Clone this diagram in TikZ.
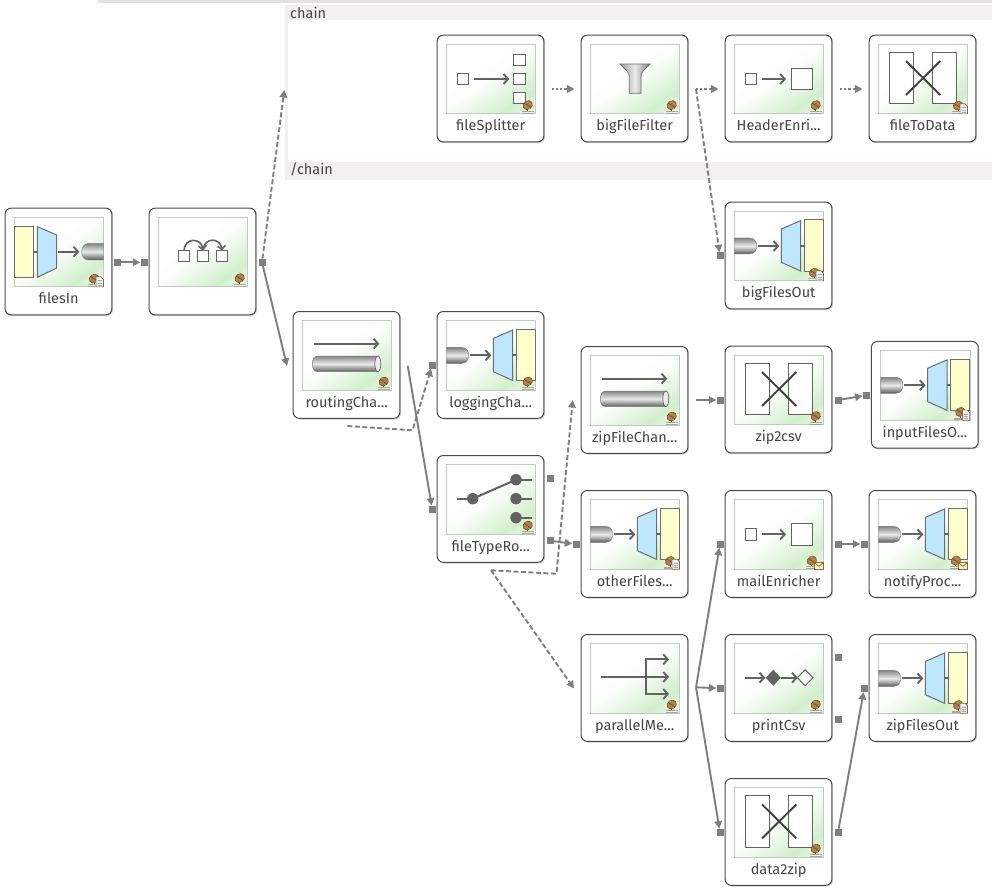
\documentclass[tikz,border=0pt]{standalone}
\usepackage{fontspec}
\setmainfont{Fira Sans}
\usetikzlibrary{arrows.meta}
\definecolor{cg}{HTML}{D2EFCD}
\definecolor{cgl}{HTML}{E4F6E0}
\definecolor{band}{HTML}{F1F0EE}
\definecolor{topband}{HTML}{E2E2E0}
\definecolor{boxline}{HTML}{4A4A4A}
\definecolor{boxshadow}{HTML}{CCCCCC}
\definecolor{imgline}{HTML}{C4C9C4}
\definecolor{icon}{HTML}{626262}
\definecolor{iconedge}{HTML}{6A7072}
\definecolor{ydoc}{HTML}{FFFFCC}
\definecolor{bluet}{HTML}{BFE6FF}
\definecolor{conn}{HTML}{7E7E7E}
\definecolor{labelc}{HTML}{444444}
\definecolor{cylT}{HTML}{858585}
\definecolor{cylM}{HTML}{EAEAEA}
\definecolor{cylB}{HTML}{5A5A5A}
\definecolor{beanc}{HTML}{B07A45}
\definecolor{beand}{HTML}{7A4A20}
\definecolor{standa}{HTML}{B4A878}
\definecolor{standb}{HTML}{9AA6C0}
\definecolor{docb}{HTML}{8A6A2A}
\definecolor{docf}{HTML}{EEF3FA}
\definecolor{mailf}{HTML}{FFF6C8}
\pgfdeclareverticalshading{compgrad}{100bp}{color(0bp)=(cgl); color(20bp)=(cgl); color(28bp)=(cg); color(50bp)=(white!90!cg); color(62bp)=(white); color(100bp)=(white)}
\tikzset{
  compbox/.style={draw=boxline,fill=white,line width=1pt,rounded corners=6pt,minimum width=106.7pt,minimum height=106.7pt,inner sep=0pt},
  shadowbox/.style={draw=boxshadow,line width=1.2pt,rounded corners=6pt},
  img/.style={draw=imgline,line width=1pt,shading=compgrad,shading angle=35},
  clabel/.style={font=\fontsize{14.5}{16}\selectfont,text=labelc,inner sep=0pt,anchor=base},
  ilinew/.style={draw=icon,line width=2pt},
  iarrow/.style={draw=icon,line width=2pt,-{Straight Barb[length=4.5pt,width=10pt,line width=1.9pt]}},
  iedge/.style={draw=iconedge,line width=1pt},
  isq/.style={draw=icon,fill=white,line width=1pt},
  cyl/.style={top color=cylT,bottom color=cylB,middle color=cylM,draw=iconedge,line width=0.4pt},
  port/.style={rectangle,fill=conn,draw=none,minimum size=7pt,inner sep=0pt},
  link/.style={draw=conn,line width=1.9pt,-{Triangle[length=7.5pt,width=7.5pt]}},
  linkd/.style={link,dash pattern=on 5pt off 2.5pt},
  linkdot/.style={link,dash pattern=on 2.2pt off 2pt},
  bandtext/.style={font=\fontsize{14.5}{16}\selectfont,text=labelc,inner sep=0pt,anchor=base west},
}
% icons, in coordinates relative to the component box
\newcommand\iconIn{
  \path[iedge,fill=ydoc] (9,18) rectangle (28.4,69);
  \draw[ilinew] (28.4,43.4) -- (32,43.4);
  \path[iedge,fill=bluet] (32,18.3) -- (51.4,26.7) -- (51.4,59.7) -- (32,69) -- cycle;
  \path[cyl] (98.2,35) -- (84,35) .. controls (78,35) and (76.4,40) .. (76.4,43.4) .. controls (76.4,47) and (78,51.7) .. (84,51.7) -- (98.2,51.7) -- cycle;
  \draw[iarrow] (53,43.4) -- (74,43.4);
}
\newcommand\iconOut{
  \path[cyl] (9.2,35.7) -- (24,35.7) .. controls (30,35.7) and (31.3,40) .. (31.3,43.7) .. controls (31.3,47) and (30,51.7) .. (24,51.7) -- (9.2,51.7) -- cycle;
  \draw[iarrow] (32.7,43.7) -- (54,43.7);
  \path[iedge,fill=bluet] (56,26.7) -- (75.4,18.3) -- (75.4,68.7) -- (56,60) -- cycle;
  \draw[ilinew] (75.4,43.7) -- (79,43.7);
  \path[iedge,fill=ydoc] (79,17.7) rectangle (98.2,69);
}
\newcommand\iconSplit{
  \path[isq] (20,38.4) rectangle (31.4,49.4);
  \draw[iarrow] (36.7,43.7) -- (72,43.7);
  \path[isq] (76,19) rectangle (87.7,30.4);
  \path[isq] (76,38.4) rectangle (87.7,49.4);
  \path[isq] (76,57) rectangle (87.7,68.4);
}
\newcommand\iconFilter{
  \path[left color=cylT!80!white,right color=cylB!80!white,middle color=cylM,draw=iconedge,line width=0.8pt]
    (38.7,28.7) -- (68.7,28.7) -- (61.5,36) .. controls (60,38) and (59.7,39) .. (59.7,42) -- (59.7,58) -- (48,58) -- (48,42) .. controls (48,39) and (47.5,38) .. (46,36) -- cycle;
}
\newcommand\iconEnrich{
  \path[isq] (20,38) rectangle (31.4,49.4);
  \draw[iarrow] (36.7,43.7) -- (60.7,43.7);
  \path[isq] (66,33) rectangle (87.4,54.4);
}
\newcommand\iconTrans{
  \path[isq] (20,17) rectangle (44.4,68.4);
  \path[isq] (63,17) rectangle (87.4,68.4);
  \draw[draw=black!75,line width=1.9pt] (36.7,25.7) -- (71,59.7);
  \draw[draw=black!75,line width=1.9pt] (71,25.7) -- (36.7,59.7);
}
\newcommand\iconChannel{
  \draw[iarrow] (20.7,32) -- (86,32);
  \path[cyl] (84.5,44.3) -- (25,44.3) .. controls (20,44.3) and (19,49) .. (19,52) .. controls (19,56) and (20,60) .. (25,60) -- (84.5,60) -- cycle;
  \path[draw=icon,fill=cylM,line width=0.7pt] (84.5,52.15) ellipse [x radius=3,y radius=7.85];
}
\newcommand\iconRouter{
  \draw[ilinew] (19.4,43) -- (35.4,43);
  \draw[ilinew] (35.4,43) -- (78.7,24);
  \draw[ilinew] (78.7,24) -- (94.7,24);
  \draw[ilinew] (78.7,43) -- (94.7,43);
  \draw[ilinew] (78.7,62) -- (94.7,62);
  \path[fill=icon] (35.4,43) circle [radius=5.7];
  \path[fill=icon] (78.7,24) circle [radius=5.7];
  \path[fill=icon] (78.7,43) circle [radius=5.7];
  \path[fill=icon] (78.7,62) circle [radius=5.7];
}
\newcommand\iconChain{
  \path[isq] (29,42.4) rectangle (40.4,53.4);
  \path[isq] (48,42.4) rectangle (59.4,53.4);
  \path[isq] (67,42.4) rectangle (78.4,53.4);
  \draw[draw=icon,line width=1.6pt,-{Straight Barb[length=3.5pt,width=8pt,line width=1.5pt]}] (34.7,42.4) .. controls (35,29) and (52,29) .. (53.7,42);
  \draw[draw=icon,line width=1.6pt,-{Straight Barb[length=3.5pt,width=8pt,line width=1.5pt]}] (54,41) .. controls (55,29) and (71,29) .. (72.7,42);
}
\newcommand\iconFan{
  \draw[iarrow] (19.7,42.3) -- (87.7,42.3);
  \draw[ilinew] (64.4,24.7) -- (64.4,59.3);
  \draw[iarrow] (63.4,24.7) -- (87.7,24.7);
  \draw[iarrow] (63.4,59.3) -- (87.7,59.3);
}
\newcommand\iconAct{
  \draw[iarrow] (19.7,43) -- (40,43);
  \path[fill=icon] (40.4,43) -- (48,35) -- (55.4,43) -- (48,51) -- cycle;
  \draw[iarrow] (55.4,43) -- (72.5,43);
  \path[isq] (72,43) -- (79.8,35) -- (87.7,43) -- (79.8,51) -- cycle;
}
% badges
\newcommand\beanat[2]{
  \begin{scope}[shift={(#1,#2)}]
    \path[fill=beanc,draw=beand,line width=0.5pt,rotate around={35:(0,0)}] (0,0) ellipse [x radius=5,y radius=4.2];
    \draw[draw=beand,line width=0.6pt] (-3.5,-2) -- (3.5,2.5);
    \draw[draw=beand!60,line width=0.5pt] (-4,0) -- (2,3.5);
    \draw[draw=beand!60,line width=0.5pt] (-2,-3.5) -- (4,0);
    \draw[draw=beand,line width=0.9pt] (0,4) -- (0,6);
  \end{scope}
}
\newcommand\badgeBean{
  \beanat{90.4}{69.8}
  \draw[draw=standa,line width=1pt] (84.3,76.2) -- (96.5,76.2);
  \draw[draw=standb,line width=0.8pt] (84.3,77.8) -- (96.5,77.8);
}
\newcommand\badgeDoc{
  \beanat{88.7}{70.3}
  \draw[draw=standa,line width=1pt] (82.5,76.5) -- (92,76.5);
  \draw[draw=standb,line width=0.8pt] (82.5,78) -- (92,78);
  \path[fill=docf,draw=docb,line width=0.7pt] (90.8,68.5) -- (95.5,68.5) -- (98.2,71.2) -- (98.2,78.6) -- (90.8,78.6) -- cycle;
  \draw[draw=standb,line width=0.7pt] (92.4,72.5) -- (96.6,72.5);
  \draw[draw=standb,line width=0.7pt] (92.4,74.6) -- (96.6,74.6);
  \draw[draw=standb,line width=0.7pt] (92.4,76.7) -- (96.6,76.7);
}
\newcommand\badgeMail{
  \beanat{86.5}{69.8}
  \draw[draw=standa,line width=1pt] (80.5,76.2) -- (89,76.2);
  \draw[draw=standb,line width=0.8pt] (80.5,77.8) -- (89,77.8);
  \path[fill=mailf,draw=docb,line width=0.7pt] (88.6,71.5) rectangle (98.4,78.6);
  \draw[draw=docb,line width=0.7pt] (88.6,71.5) -- (93.5,75.6) -- (98.4,71.5);
}
% component: name, left, top, label, icon, badge
\newcommand\comp[6]{
  \begin{scope}[shift={(#2,#3)}]
    \path[shadowbox] (0.9,0.9) rectangle (107.2,107.2);
    \node[compbox] (#1) at (53.2,53.2) {};
    \path[img] (9,9) rectangle (98.4,78.4);
    #5
    #6
    \node[clabel] (#1-label) at (53.35,95.6) {#4};
  \end{scope}
}
\begin{document}
\begin{tikzpicture}[x=1pt,y=-1pt]
\useasboundingbox (0,0) rectangle (992,890);
% container bands
\path[fill=topband] (98,0) rectangle (992,3);
\path[fill=band] (285,5) rectangle (992,20);
\path[fill=band] (285,5) rectangle (288,180);
\path[fill=band] (285,162) rectangle (992,180);
\node[bandtext] (chainlabel) at (290,19) {chain};
\node[bandtext] (chainendlabel) at (290,174.5) {/chain};
% components
\comp{filesIn}{5.3}{208.3}{filesIn}{\iconIn}{\badgeDoc}
\comp{chainer}{149.3}{208.3}{}{\iconChain}{\badgeBean}
\comp{routingCha}{293.3}{311.7}{routingCha...}{\iconChannel}{\badgeBean}
\comp{loggingCha}{437.3}{311.7}{loggingCha...}{\iconOut}{\badgeBean}
\comp{fileTypeRo}{437.3}{455.7}{fileTypeRo...}{\iconRouter}{\badgeBean}
\comp{fileSplitter}{437.3}{35.3}{fileSplitter}{\iconSplit}{\badgeBean}
\comp{bigFileFilter}{581.3}{35.3}{bigFileFilter}{\iconFilter}{\badgeBean}
\comp{HeaderEnri}{725.3}{35.3}{HeaderEnri...}{\iconEnrich}{\badgeBean}
\comp{fileToData}{869.3}{35.3}{fileToData}{\iconTrans}{\badgeDoc}
\comp{bigFilesOut}{725.3}{202.3}{bigFilesOut}{\iconOut}{\badgeDoc}
\comp{zipFileChan}{581.3}{346.7}{zipFileChan...}{\iconChannel}{\badgeBean}
\comp{zipcsv}{725.3}{346.3}{zip2csv}{\iconTrans}{\badgeBean}
\comp{inputFilesO}{871.6}{341.6}{inputFilesO...}{\iconOut}{\badgeDoc}
\comp{otherFiles}{581.3}{490.7}{otherFiles...}{\iconOut}{\badgeDoc}
\comp{mailEnricher}{725.3}{490.7}{mailEnricher}{\iconEnrich}{\badgeMail}
\comp{notifyProc}{869.3}{490.7}{notifyProc...}{\iconOut}{\badgeMail}
\comp{parallelMe}{581.3}{634.7}{parallelMe...}{\iconFan}{\badgeBean}
\comp{printCsv}{725.3}{634.7}{printCsv}{\iconAct}{\badgeBean}
\comp{zipFilesOut}{869.3}{634.7}{zipFilesOut}{\iconOut}{\badgeDoc}
\comp{datazip}{725.3}{778.7}{data2zip}{\iconTrans}{\badgeBean}
% ports
\node[port] (pFilesOut) at (117.7,262.3) {};
\node[port] (pChainIn) at (144,262.3) {};
\node[port] (pChainOut) at (262,262.3) {};
\node[port] (pLogIn) at (432.3,365) {};
\node[port] (pTypeIn) at (432.3,509.3) {};
\node[port] (pTypeA) at (550.3,478.3) {};
\node[port] (pTypeB) at (550.3,540.7) {};
\node[port] (pOtherIn) at (576,544.3) {};
\node[port] (pBigIn) at (720,256) {};
\node[port] (pZipIn) at (720,400) {};
\node[port] (pZipOut) at (838,400) {};
\node[port] (pInputIn) at (866.3,395.3) {};
\node[port] (pMailIn) at (720,544) {};
\node[port] (pMailOut) at (838,544) {};
\node[port] (pNotifyIn) at (864,544) {};
\node[port] (pPrintIn) at (720,688.3) {};
\node[port] (pPrintA) at (838,657.3) {};
\node[port] (pPrintB) at (838,719.3) {};
\node[port] (pDataIn) at (720,832.3) {};
\node[port] (pDataOut) at (838,832.3) {};
\node[port] (pZipFilesIn) at (864.3,688.3) {};
% free ends
\coordinate (cChainTip) at (284.3,90);
\coordinate (cRoutingTip) at (287,366);
\coordinate (cRoutDash) at (347.3,426);
\coordinate (cRoutDashB) at (412.5,430.3);
\coordinate (cRoutSolid) at (407.7,365.7);
\coordinate (cTypeDash) at (491,570.3);
\coordinate (cTypeBend) at (556.5,573.8);
\coordinate (cZipTip) at (572.7,400);
\coordinate (cParTip) at (574,688.5);
\coordinate (cZipChanOut) at (696,400);
\coordinate (cParOut) at (696,687.3);
\coordinate (cSplitOut) at (551.7,89);
\coordinate (cSplitTip) at (574.5,89);
\coordinate (cFilterBend) at (696,89);
\coordinate (cHeadTip) at (718.5,89);
\coordinate (cHeadOut) at (840,89);
\coordinate (cToDataTip) at (862.5,89);
% connectors
\draw[link] (pFilesOut) -- (pChainIn);
\draw[linkd] (pChainOut) -- (cChainTip);
\draw[link] (pChainOut) -- (cRoutingTip);
\draw[linkd] (cRoutDash) -- (cRoutDashB) -- (pLogIn);
\draw[link] (cRoutSolid) -- (pTypeIn);
\draw[link] (pTypeB) -- (pOtherIn);
\draw[linkd] (cTypeDash) -- (cTypeBend) -- (cZipTip);
\draw[linkd] (cTypeDash) -- (cParTip);
\draw[link] (cZipChanOut) -- (pZipIn);
\draw[link] (pZipOut) -- (pInputIn);
\draw[link] (cParOut) -- (pMailIn);
\draw[link] (cParOut) -- (pPrintIn);
\draw[link] (cParOut) -- (pDataIn);
\draw[link] (pMailOut) -- (pNotifyIn);
\draw[link] (pDataOut) -- (pZipFilesIn);
\draw[linkdot] (cSplitOut) -- (cSplitTip);
\draw[linkdot] (cFilterBend) -- (cHeadTip);
\draw[linkd] (cFilterBend) -- (pBigIn);
\draw[linkdot] (cHeadOut) -- (cToDataTip);
\end{tikzpicture}
\end{document}
